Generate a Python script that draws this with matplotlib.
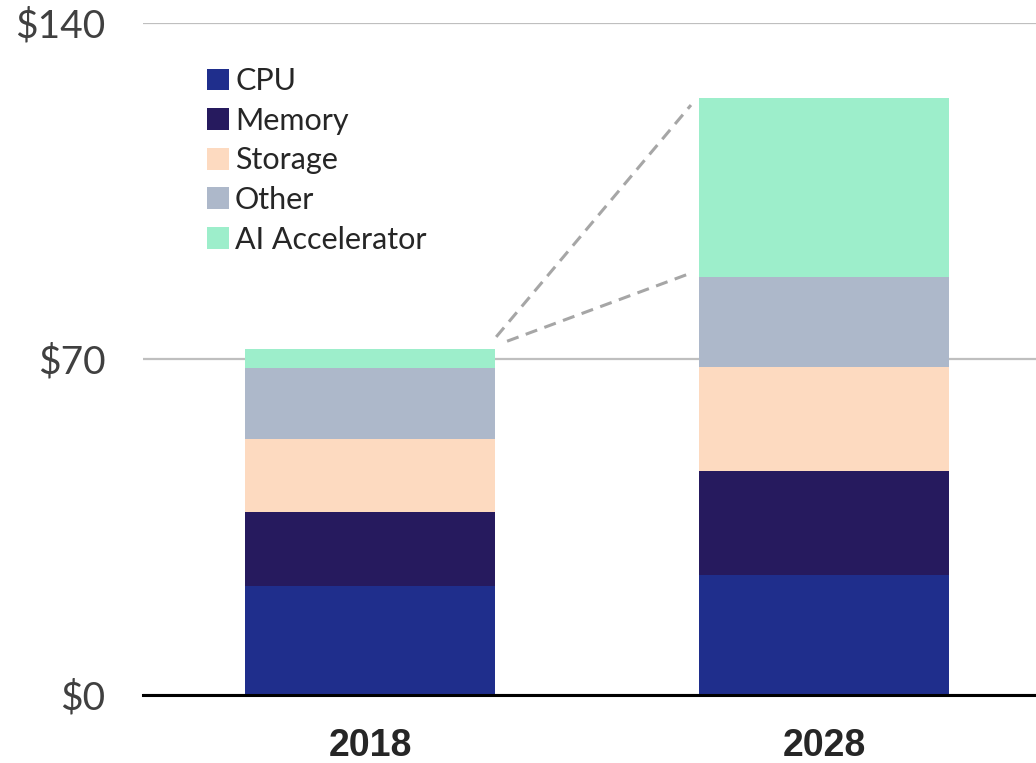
import matplotlib.pyplot as plt
import numpy as np

years = ["2018", "2028"]
segments = ["CPU", "Memory", "Storage", "Other", "AI Accelerator"]
cpu = [22.7, 25.0]
memory = [15.4, 21.7]
storage = [15.2, 21.6]
other = [14.8, 18.8]
ai_acc = [4.0, 37.3]
yticks = [0, 70, 140]
ytick_labels = ["$0", "$70", "$140"]

colors = ["#1f2e8c", "#261a5e", "#fddac0", "#adb8ca", "#9deecb"]

fig = plt.figure(figsize=(10.36, 7.63), dpi=100)
ax = fig.add_axes([0.138, 0.0891, 0.862, 0.8808])

x = np.arange(len(years))
width = 0.55
bottom = np.zeros(len(years))
for name, vals, c in zip(segments, [cpu, memory, storage, other, ai_acc], colors):
    ax.bar(x, vals, width, bottom=bottom, color=c, label=name, zorder=3, linewidth=0)
    bottom += np.array(vals)

# dashed connectors for the AI accelerator growth
tot = bottom
ai_base = tot - np.array(ai_acc)
ax.plot([x[0] + width / 2 + 0.003, x[1] - width / 2 - 0.018], [tot[0] + 2.5, tot[1] - 1.5],
        ls=(0, (4, 2.5)), color="#a6a6a6", lw=2.2, zorder=4)
ax.plot([x[0] + width / 2 + 0.027, x[1] - width / 2 - 0.018], [tot[0] + 1.6, ai_base[1] + 0.8],
        ls=(0, (4, 2.5)), color="#a6a6a6", lw=2.2, zorder=4)

ax.set_xlim(-0.5, 1.467)
ax.set_ylim(0, 140)
ax.set_yticks(yticks)
ax.set_yticklabels(ytick_labels)
ax.set_xticks(x)
ax.set_xticklabels(years)
for lbl in ax.get_yticklabels():
    lbl.set_fontfamily("Lato")
    lbl.set_fontsize(28)
    lbl.set_color("#404040")
for lbl in ax.get_xticklabels():
    lbl.set_fontfamily("Liberation Sans")
    lbl.set_fontweight("bold")
    lbl.set_fontsize(27)
    lbl.set_color("#262626")
ax.tick_params(axis="y", length=0, pad=27)
ax.tick_params(axis="x", length=0, pad=24)

ax.grid(axis="y", color="#bfbfbf", lw=1.6, zorder=0)
for s in ["top", "right", "left"]:
    ax.spines[s].set_visible(False)
ax.spines["bottom"].set_color("black")
ax.spines["bottom"].set_linewidth(2.2)
ax.spines["bottom"].set_zorder(5)

leg = ax.legend(loc="upper left", bbox_to_anchor=(0.058, 0.9525), frameon=False,
                prop={"family": "Lato", "size": 22}, handlelength=0.72, handleheight=0.72,
                handletextpad=0.2, labelspacing=0.38, borderaxespad=0)
for t in leg.get_texts():
    t.set_color("#262626")

fig.savefig("out.png", dpi=100)
